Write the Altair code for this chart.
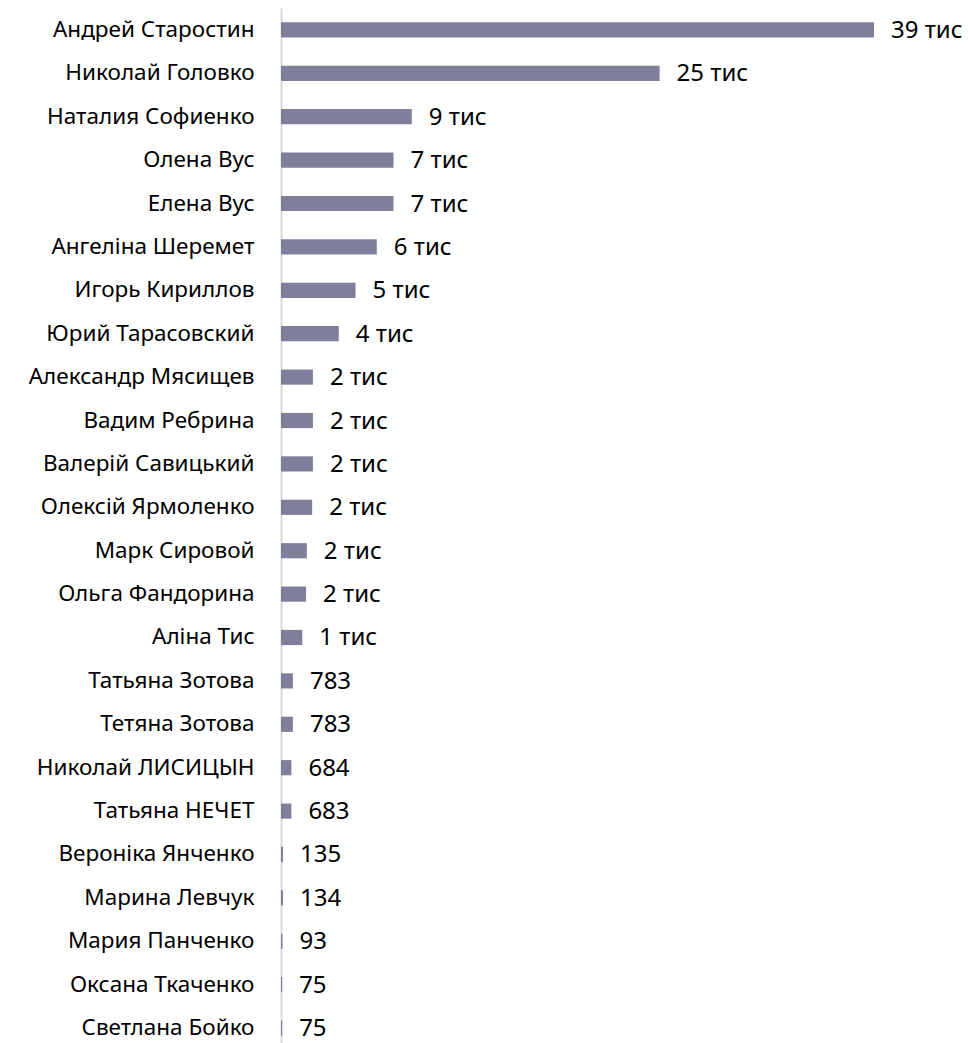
import altair as alt
import pandas as pd

names = [
    "Андрей Старостин", "Николай Головко", "Наталия Софиенко", "Олена Вус",
    "Елена Вус", "Ангеліна Шеремет", "Игорь Кириллов", "Юрий Тарасовский",
    "Александр Мясищев", "Вадим Ребрина", "Валерій Савицький", "Олексій Ярмоленко",
    "Марк Сировой", "Ольга Фандорина", "Аліна Тис", "Татьяна Зотова",
    "Тетяна Зотова", "Николай ЛИСИЦЫН", "Татьяна НЕЧЕТ", "Вероніка Янченко",
    "Марина Левчук", "Мария Панченко", "Оксана Ткаченко", "Светлана Бойко",
]
values = [
    39000, 24900, 8600, 7400,
    7400, 6300, 4900, 3800,
    2100, 2100, 2100, 2050,
    1700, 1650, 1400, 783,
    783, 684, 683, 135,
    134, 93, 75, 75,
]


def fmt(v):
    return f"{round(v / 1000)} тис" if v >= 1000 else str(v)


df = pd.DataFrame({"name": names, "value": values})
df["label"] = [fmt(v) for v in values]
df["order"] = range(len(df))

FONT = "Noto Sans"

y = alt.Y(
    "name:N",
    sort=alt.EncodingSortField(field="order", order="ascending"),
    scale=alt.Scale(paddingInner=0.65, paddingOuter=0.33),
    axis=alt.Axis(
        title=None, ticks=False, labelPadding=27, labelFontSize=22.5,
        labelFont=FONT, labelColor="#000000", domainColor="#d9d9d9",
        domainWidth=2, labelLimit=300,
    ),
)
x = alt.X("value:Q", scale=alt.Scale(domain=[0, 39000], nice=False), axis=None)

bars = alt.Chart(df).mark_bar(color="#7f7f9b").encode(x=x, y=y)
text = alt.Chart(df).mark_text(
    align="left", baseline="middle", dx=17, dy=1, fontSize=24, font=FONT, color="#000000"
).encode(x=x, y=y, text="label:N")

chart = (
    alt.layer(bars, text)
    .properties(
        width=593, height=1042,
        autosize=alt.AutoSizeParams(type="none"),
        padding={"left": 273, "top": 0, "right": 90, "bottom": 0},
    )
    .configure_view(stroke=None)
)

chart.save("out.html", embed_options={"renderer": "svg", "actions": False})
